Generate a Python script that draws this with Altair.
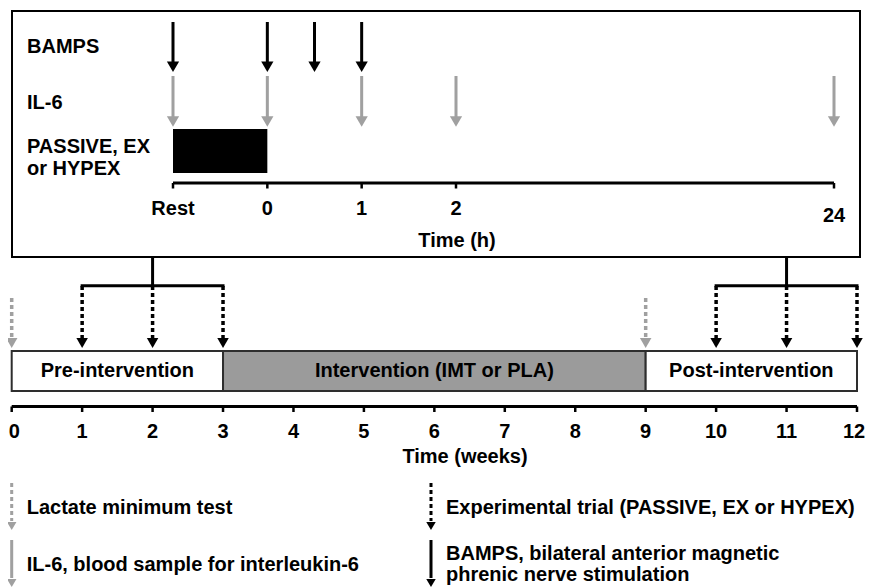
import altair as alt
import pandas as pd

# ------------------------------------------------------------------ data
hour_ticks = [-1, 0, 1, 2, 24]                 # -1 h stands for "Rest"
hour_tick_labels = ["Rest", "0", "1", "2", "24"]
bamps_hours = [-1, 0, 0.5, 1]
il6_hours = [-1, 0, 1, 2, 24]
trial_hours = [-1, 0]                          # PASSIVE, EX or HYPEX block
top_rows = ["BAMPS", "IL-6", "PASSIVE, EX\nor HYPEX"]

week_ticks = list(range(13))
week_tick_labels = [str(w) for w in week_ticks]
phase_names = ["Pre-intervention", "Intervention (IMT or PLA)", "Post-intervention"]
phase_start = [0, 3, 9]
phase_end = [3, 9, 12]
lactate_weeks = [0, 9]
trial_blocks = [[1, 2, 3], [10, 11, 12]]

legend_kinds = ["Lactate", "Trial", "IL-6", "BAMPS"]
legend_labels = ["Lactate minimum test",
                 "Experimental trial (PASSIVE, EX or HYPEX)",
                 "IL-6, blood sample for interleukin-6",
                 "BAMPS, bilateral anterior magnetic\nphrenic nerve stimulation"]
legend_col = [0, 1, 0, 1]
legend_row = [0, 0, 1, 1]

# ------------------------------------------------------------------ styles / scales
FONT = "Liberation Sans"
FS = 20
GRAY = "#a0a0a0"
PHASE_GRAY = "#9b9b9b"
W, H = 858, 580

kinds = ["Lactate", "Trial", "IL-6", "BAMPS"]
color_scale = alt.Scale(domain=kinds, range=[GRAY, "#000000", GRAY, "#000000"])
dash_scale = alt.Scale(domain=kinds, range=[[4, 3], [4, 3], [1, 0], [1, 0]])
hour_scale = alt.Scale(domain=[-1, 2, 24], range=[165, 448, 826], nice=False, zero=False)
week_scale = alt.Scale(domain=[0, 12], range=[3.7, 849], nice=False, zero=False)

text_style = dict(font=FONT, fontSize=FS, fontWeight="bold", color="black")
MULTI = "indexof(datum.label, '\\n') >= 0"
SINGLE = "indexof(datum.label, '\\n') < 0"


def kcolor():
    return alt.Color("kind:N", scale=color_scale, legend=None)


def kdash():
    return alt.StrokeDash("kind:N", scale=dash_scale, legend=None)


def hx(field):
    return alt.X(f"{field}:Q", scale=hour_scale, axis=None)


def wx(field):
    return alt.X(f"{field}:Q", scale=week_scale, axis=None)


# ------------------------------------------------------------------ top panel (hours)
one = pd.DataFrame({"k": [0]})
frame = alt.Chart(one).mark_rect(fill="transparent", stroke="black", strokeWidth=2).encode(
    x=alt.value(4), x2=alt.value(852), y=alt.value(3), y2=alt.value(249))

rows_df = pd.DataFrame({"label": top_rows, "row": list(range(len(top_rows)))})
row_y = alt.Y("row:Q", scale=alt.Scale(domain=[0, 2], range=[39, 150], nice=False, zero=False), axis=None)
row_labels_1 = alt.Chart(rows_df).transform_filter(SINGLE).mark_text(
    align="left", baseline="middle", **text_style).encode(x=alt.value(19), y=row_y, text="label:N")
row_labels_2 = alt.Chart(rows_df).transform_filter(MULTI).mark_text(
    align="left", baseline="middle", lineBreak="\n", lineHeight=22.5, dy=-11.25,
    **text_style).encode(x=alt.value(19), y=row_y, text="label:N")

bamps_df = pd.DataFrame({"hour": bamps_hours, "kind": "BAMPS"})
il6_df = pd.DataFrame({"hour": il6_hours, "kind": "IL-6"})

bamps_shaft = alt.Chart(bamps_df).mark_rule(strokeWidth=3).encode(
    x=hx("hour"), y=alt.value(14), y2=alt.value(56), color=kcolor(), strokeDash=kdash())
bamps_head = alt.Chart(bamps_df).mark_point(shape="triangle-down", filled=True, size=150,
                                            opacity=1, strokeWidth=0).encode(
    x=hx("hour"), y=alt.value(58.7), color=kcolor())
il6_shaft = alt.Chart(il6_df).mark_rule(strokeWidth=3).encode(
    x=hx("hour"), y=alt.value(68), y2=alt.value(110), color=kcolor(), strokeDash=kdash())
il6_head = alt.Chart(il6_df).mark_point(shape="triangle-down", filled=True, size=150,
                                        opacity=1, strokeWidth=0).encode(
    x=hx("hour"), y=alt.value(113.5), color=kcolor())

trial_df = pd.DataFrame({"start": [trial_hours[0]], "end": [trial_hours[1]]})
trial_rect = alt.Chart(trial_df).mark_rect(color="black").encode(
    x=hx("start"), x2=alt.X2("end"), y=alt.value(121), y2=alt.value(165))

# hour axis drawn from the hour scale
h_ticks_df = pd.DataFrame({"tick": hour_ticks, "label": hour_tick_labels})
h_span_df = pd.DataFrame({"start": [hour_ticks[0]], "end": [hour_ticks[-1]]})
h_domain = alt.Chart(h_span_df).mark_rule(strokeWidth=3, color="black").encode(
    x=hx("start"), x2=alt.X2("end"), y=alt.value(175))
h_tick = alt.Chart(h_ticks_df).mark_rule(strokeWidth=2.5, color="black").encode(
    x=hx("tick"), y=alt.value(175), y2=alt.value(180.5))
h_lab = alt.Chart(h_ticks_df).transform_filter(f"datum.tick != {hour_ticks[-1]}").mark_text(
    align="center", baseline="middle", **text_style).encode(
    x=hx("tick"), y=alt.value(200.5), text="label:N")
h_lab_last = alt.Chart(h_ticks_df).transform_filter(f"datum.tick == {hour_ticks[-1]}").mark_text(
    align="center", baseline="middle", **text_style).encode(
    x=hx("tick"), y=alt.value(207.5), text="label:N")
h_title = alt.Chart(one).mark_text(align="center", baseline="middle", text="Time (h)",
                                   **text_style).encode(x=alt.value(449), y=alt.value(233))

top = alt.layer(frame, row_labels_1, row_labels_2, bamps_shaft, bamps_head, il6_shaft, il6_head,
                trial_rect, h_domain, h_tick, h_lab, h_lab_last, h_title)

# ------------------------------------------------------------------ bottom panel (weeks)
blocks_df = pd.DataFrame({"start": [b[0] for b in trial_blocks],
                          "end": [b[-1] for b in trial_blocks],
                          "mid": [b[len(b) // 2] for b in trial_blocks]})
trials_df = pd.DataFrame({"week": [w for b in trial_blocks for w in b], "kind": "Trial"})
lact_df = pd.DataFrame({"week": lactate_weeks, "kind": "Lactate"})
heads_df = pd.concat([lact_df, trials_df], ignore_index=True)
phase_df = pd.DataFrame({"phase": phase_names, "start": phase_start, "end": phase_end})

connector = alt.Chart(blocks_df).mark_rule(strokeWidth=3, color="black").encode(
    x=wx("mid"), y=alt.value(249), y2=alt.value(279))
bracket = alt.Chart(blocks_df).mark_rule(strokeWidth=3, color="black", strokeCap="square").encode(
    x=wx("start"), x2=alt.X2("end"), y=alt.value(277.7))
trial_shaft = alt.Chart(trials_df).mark_rule(strokeWidth=3.5).encode(
    x=wx("week"), y=alt.value(278), y2=alt.value(331), color=kcolor(), strokeDash=kdash())
lact_shaft = alt.Chart(lact_df).mark_rule(strokeWidth=3.5).encode(
    x=wx("week"), y=alt.value(290), y2=alt.value(331), color=kcolor(), strokeDash=kdash())
week_heads = alt.Chart(heads_df).mark_point(shape="triangle-down", filled=True, size=132,
                                            opacity=1, strokeWidth=0).encode(
    x=wx("week"), y=alt.value(335), color=kcolor())

phase_rect = alt.Chart(phase_df).mark_rect(stroke="#2e2e2e", strokeWidth=2).encode(
    x=wx("start"), x2=alt.X2("end"), y=alt.value(343), y2=alt.value(383),
    fill=alt.Fill("phase:N", scale=alt.Scale(domain=phase_names,
                                             range=["white", PHASE_GRAY, "white"]), legend=None))
phase_text = alt.Chart(phase_df).transform_calculate(
    mid="(datum.start + datum.end) / 2").mark_text(align="center", baseline="middle", **text_style).encode(
    x=wx("mid"), y=alt.value(363.3), text="phase:N")

# week axis drawn from the week scale (end labels nudged inward to stay on the page)
w_ticks_df = pd.DataFrame({"tick": week_ticks, "label": week_tick_labels})
w_span_df = pd.DataFrame({"start": [week_ticks[0]], "end": [week_ticks[-1]]})
w_domain = alt.Chart(w_span_df).mark_rule(strokeWidth=3, color="black").encode(
    x=wx("start"), x2=alt.X2("end"), y=alt.value(398.5))
w_tick = alt.Chart(w_ticks_df).mark_rule(strokeWidth=2.5, color="black").encode(
    x=wx("tick"), y=alt.value(398.5), y2=alt.value(404))
w_lab = alt.Chart(w_ticks_df).transform_filter(
    f"datum.tick != {week_ticks[0]} && datum.tick != {week_ticks[-1]}").mark_text(
    align="center", baseline="middle", **text_style).encode(
    x=wx("tick"), y=alt.value(424), text="label:N")
w_lab_first = alt.Chart(w_ticks_df).transform_filter(f"datum.tick == {week_ticks[0]}").mark_text(
    align="center", baseline="middle", dx=2.5, **text_style).encode(
    x=wx("tick"), y=alt.value(424), text="label:N")
w_lab_last = alt.Chart(w_ticks_df).transform_filter(f"datum.tick == {week_ticks[-1]}").mark_text(
    align="center", baseline="middle", dx=-3, **text_style).encode(
    x=wx("tick"), y=alt.value(424), text="label:N")
w_title = alt.Chart(one).mark_text(align="center", baseline="middle", text="Time (weeks)",
                                   **text_style).encode(x=alt.value(457), y=alt.value(448.5))

bottom = alt.layer(connector, bracket, trial_shaft, lact_shaft, week_heads, phase_rect, phase_text,
                   w_domain, w_tick, w_lab, w_lab_first, w_lab_last, w_title)

# ------------------------------------------------------------------ key
leg_df = pd.DataFrame({"kind": legend_kinds, "label": legend_labels,
                       "col": legend_col, "row": legend_row})
lx = alt.X("col:Q", scale=alt.Scale(domain=[0, 1], range=[3.7, 423], nice=False, zero=False), axis=None)
ly = alt.Y("row:Q", scale=alt.Scale(domain=[0, 1], range=[499, 556], nice=False, zero=False), axis=None)

leg_shaft = alt.Chart(leg_df).mark_rule(strokeWidth=3, yOffset=-24, y2Offset=14).encode(
    x=lx, y=ly, y2=alt.Y2("row"), color=kcolor(), strokeDash=kdash())
leg_head = alt.Chart(leg_df).mark_point(shape="triangle-down", filled=True, size=90, opacity=1,
                                        strokeWidth=0, yOffset=19).encode(
    x=lx, y=ly, color=kcolor())
leg_text_1 = alt.Chart(leg_df).transform_filter(SINGLE).mark_text(
    align="left", baseline="middle", dx=15, dy=1, **text_style).encode(x=lx, y=ly, text="label:N")
leg_text_2 = alt.Chart(leg_df).transform_filter(MULTI).mark_text(
    align="left", baseline="middle", dx=15, dy=-10, lineBreak="\n", lineHeight=20.5,
    **text_style).encode(x=lx, y=ly, text="label:N")

key = alt.layer(leg_shaft, leg_head, leg_text_1, leg_text_2)

# ------------------------------------------------------------------ assemble
chart = alt.layer(top, bottom, key).resolve_scale(
    x="independent", y="independent"
).properties(
    width=W, height=H, padding=0, autosize=alt.AutoSizeParams(type="none"), background="white"
).configure_view(stroke=None)

chart.save("out.html", embed_options={"renderer": "svg", "actions": False})
